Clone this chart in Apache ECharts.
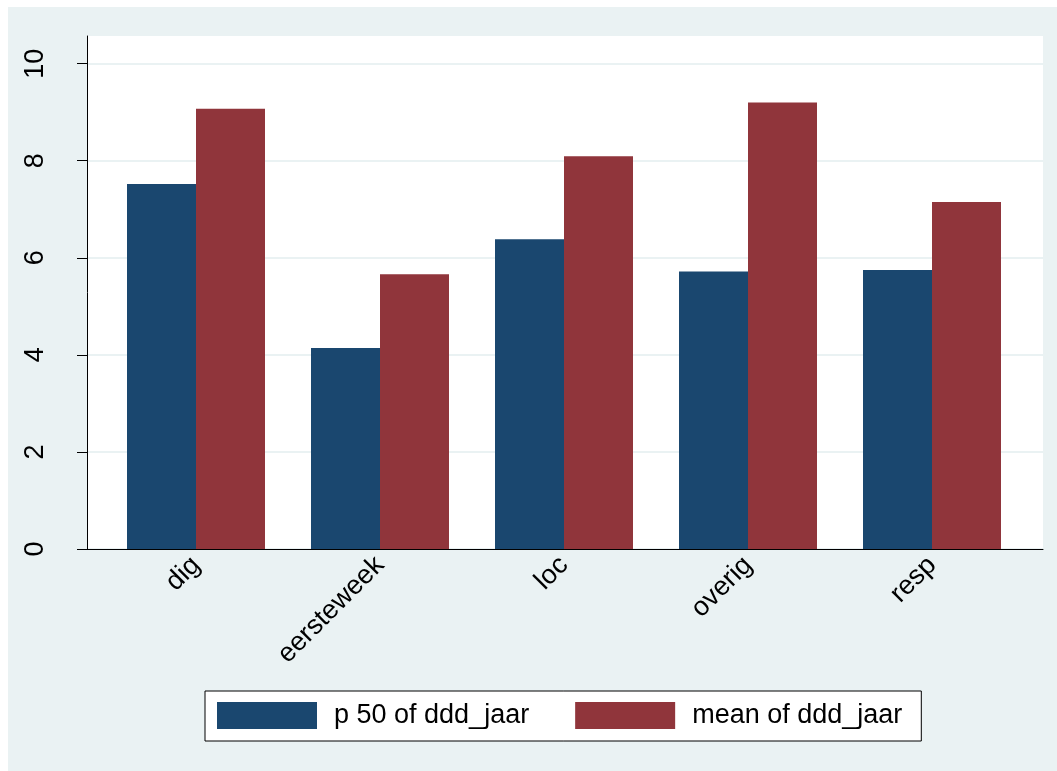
<!DOCTYPE html>
<html>
<head>
<meta charset="utf-8">
<script src="https://cdn.jsdelivr.net/npm/echarts@6/dist/echarts.min.js"></script>
<style>
html,body{margin:0;padding:0;background:#fff;}
#chart{width:1057px;height:771px;}
</style>
</head>
<body>
<div id="chart"></div>
<script>
const categories = ['dig', 'eersteweek', 'loc', 'overig', 'resp'];
const p50Values = [7.52, 4.14, 6.38, 5.72, 5.75];
const meanValues = [9.07, 5.66, 8.09, 9.20, 7.15];
const yTickValues = [0, 2, 4, 6, 8, 10];
const seriesNames = ['p 50 of ddd_jaar', 'mean of ddd_jaar'];

const FONT = 'Liberation Sans, Arial, Helvetica, sans-serif';
const FS = 27;
const YMAX = 10.57;

const chart = echarts.init(document.getElementById('chart'), null, {renderer: 'canvas'});
chart.setOption({
  backgroundColor: '#eaf2f3',
  animation: false,
  graphic: [
    {type: 'rect', shape: {x: 0, y: 0, width: 8, height: 771}, style: {fill: '#ffffff'}, z: -1},
    {type: 'rect', shape: {x: 0, y: 0, width: 1057, height: 7}, style: {fill: '#ffffff'}, z: -1}
  ],
  grid: [
    {left: 87, right: 14, top: 36, bottom: 222, show: true, backgroundColor: '#ffffff', borderWidth: 0},
    {left: 104, right: 33, top: 36, bottom: 222}
  ],
  legend: {
    data: seriesNames,
    left: 205, top: 691,
    orient: 'horizontal',
    padding: [11, 19, 12, 12],
    itemWidth: 100, itemHeight: 27, itemGap: 46,
    backgroundColor: '#ffffff', borderColor: '#000000', borderWidth: 1, borderRadius: 0,
    selectedMode: false,
    icon: 'rect',
    textStyle: {fontFamily: FONT, fontSize: FS, color: '#000', padding: [0, 0, 0, 12]}
  },
  xAxis: [
    {type: 'value', gridIndex: 0, min: 0, max: 1, show: true,
      axisLine: {show: true, onZero: false, lineStyle: {color: '#000', width: 1}},
      axisTick: {show: false}, axisLabel: {show: false}, splitLine: {show: false}},
    {type: 'category', gridIndex: 1, data: categories,
      axisLine: {show: false}, axisTick: {show: false},
      axisLabel: {rotate: 45, margin: 12, fontFamily: FONT, fontSize: FS, color: '#000', interval: 0}}
  ],
  yAxis: [
    {type: 'value', gridIndex: 0, min: 0, max: YMAX, interval: 2,
      axisLine: {show: true, lineStyle: {color: '#000', width: 1}},
      axisTick: {show: true, length: 10, lineStyle: {color: '#000', width: 1}, customValues: yTickValues},
      axisLabel: {rotate: 90, margin: 38, fontFamily: FONT, fontSize: FS, color: '#000', customValues: yTickValues},
      splitLine: {show: true, lineStyle: {color: '#eaf2f3', width: 2}}},
    {type: 'value', gridIndex: 1, min: 0, max: YMAX, show: false}
  ],
  series: [
    {name: seriesNames[0], type: 'bar', xAxisIndex: 1, yAxisIndex: 1, data: p50Values,
      barGap: '0%', barCategoryGap: '25%', itemStyle: {color: '#1a476f'}},
    {name: seriesNames[1], type: 'bar', xAxisIndex: 1, yAxisIndex: 1, data: meanValues,
      barGap: '0%', barCategoryGap: '25%', itemStyle: {color: '#90353b'}}
  ]
});
</script>
</body>
</html>
